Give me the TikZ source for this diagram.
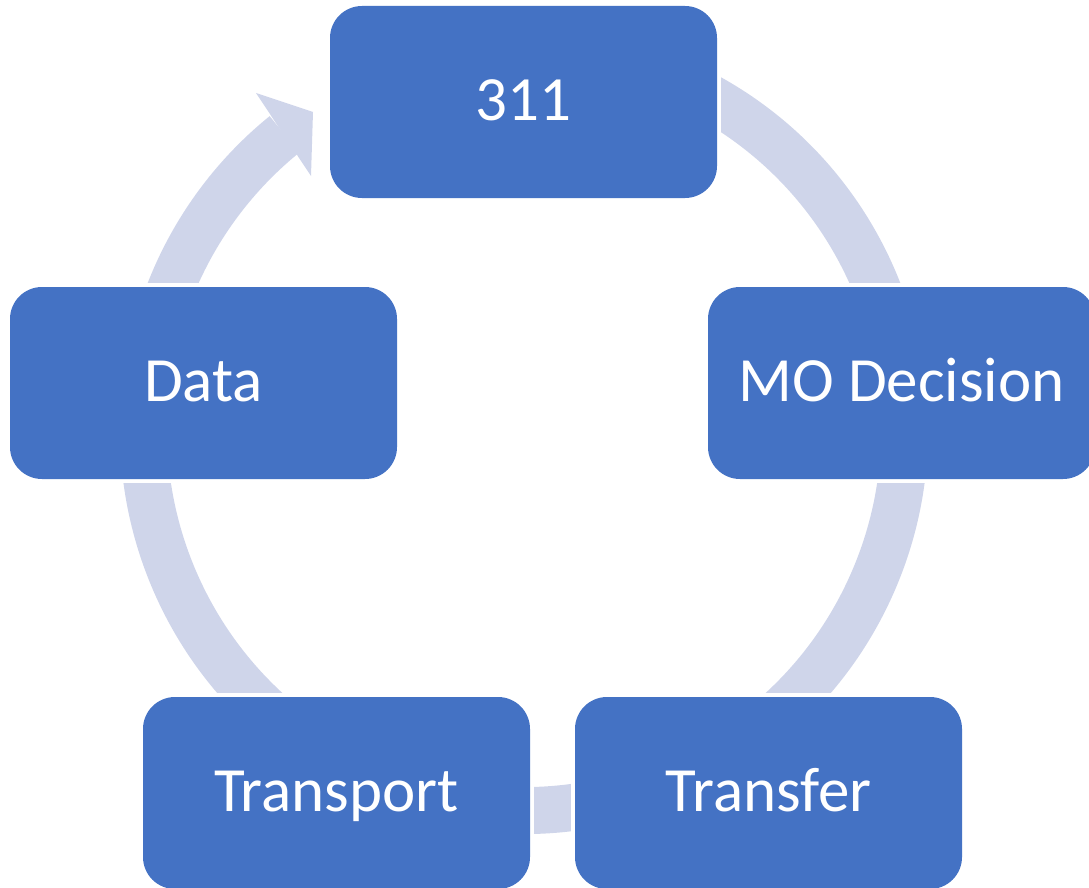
\documentclass[tikz,border=0pt]{standalone}
\usepackage{fontspec}
\setmainfont{Carlito}
\usetikzlibrary{calc}
\pgfdeclarelayer{bg}
\pgfsetlayers{bg,main}
\definecolor{boxblue}{HTML}{4472C4}
\definecolor{ringcol}{HTML}{CFD5EA}
\begin{document}
\begin{tikzpicture}[x=1pt, y=-1pt,
  box/.style={fill=boxblue, rounded corners=32pt, minimum width=387pt,
    minimum height=192pt, text=white, inner sep=0pt,
    text height=49pt, text depth=12pt,
    font=\fontsize{63}{75}\selectfont},
  gapcut/.style={fill=white},
  ringline/.style={draw=ringcol, line width=47pt},
  ringhead/.style={fill=ringcol}]
\useasboundingbox (0,0) rectangle (1089,888);
\clip (0,0) rectangle (1089,888);
\node[box] (n311) at (523.5,102) {311};
\node[box] (mo) at (901.5,383) {MO Decision};
\node[box] (transfer) at (768.5,793) {Transfer};
\node[box] (transport) at (336.5,793) {Transport};
\node[box] (data) at (203.5,383) {Data};
\begin{pgfonlayer}{bg}
  \coordinate (c) at (524,430);
  \draw[ringline] (c) ++(-65:380.5) arc[start angle=-65, end angle=231, radius=380.5];
  \coordinate (barbA) at (256,93);
  \coordinate (tip) at (313,112);
  \coordinate (barbB) at (311,176);
  \fill[ringhead] (barbA) -- (tip) -- (barbB) -- cycle;
  \foreach \n in {n311,mo,transfer,transport,data}
    \fill[gapcut] ($(\n.north west)+(-3.5,-3.5)$) rectangle ($(\n.south east)+(3.5,3.5)$);
\end{pgfonlayer}
\end{tikzpicture}
\end{document}
